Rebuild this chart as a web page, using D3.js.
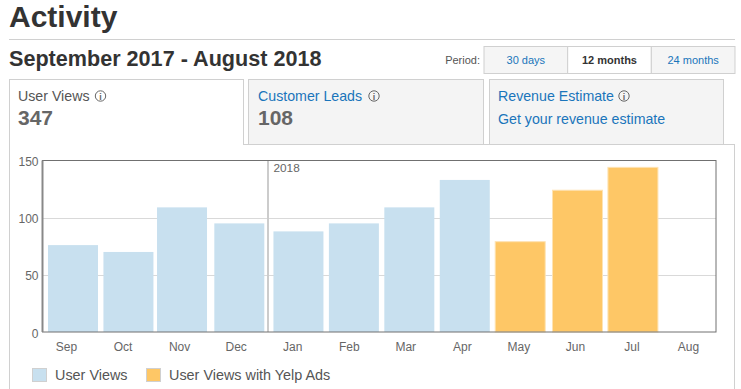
<!DOCTYPE html>
<html>
<head>
<meta charset="utf-8">
<script src="https://cdn.jsdelivr.net/npm/d3@7"></script>
<style>
  html, body { margin: 0; padding: 0; background: #fff; overflow: hidden; }
  svg { display: block; }
  text { font-family: "Liberation Sans", Arial, sans-serif; }
  .link { fill: #1a75bb; }
  .axis text { fill: #666; font-size: 12px; }
  .axis .domain, .axis .tick line { display: none; }
</style>
</head>
<body>
<script>
const months = ['Sep', 'Oct', 'Nov', 'Dec', 'Jan', 'Feb', 'Mar', 'Apr', 'May', 'Jun', 'Jul', 'Aug'];
// dates each bar sits at (they drift a day or so from the 1st)
const barDates = ['2017-09-01', '2017-10-01', '2017-10-30', '2017-11-30', '2018-01-01', '2018-01-31',
  '2018-03-02', '2018-04-01', '2018-05-01', '2018-06-01', '2018-07-01', '2018-08-01'];
const userViews = [76, 70, 109, 95, 88, 95, 109, 133, 0, 0, 0, 0];
const yelpAdsViews = [0, 0, 0, 0, 0, 0, 0, 0, 79, 124, 144, 0];
const yTicks = [0, 50, 100, 150];
const periods = ['30 days', '12 months', '24 months'];
const legendLabels = ['User Views', 'User Views with Yelp Ads'];

const width = 741, height = 389;
const plot = {left: 42.5, right: 716, top: 160.5, bottom: 332};
const barInset = 5.5, barWidth = 50;
const blue = '#c8e0ef', orange = '#fec766';

const parseDay = d3.utcParse('%Y-%m-%d');

const svg = d3.select('body').append('svg')
  .attr('width', width)
  .attr('height', height);

// page heading
svg.append('text').attr('x', 9).attr('y', 27)
  .style('font-size', '30px').style('font-weight', 'bold').attr('fill', '#333')
  .text('Activity');
svg.append('line').attr('x1', 9).attr('x2', 735).attr('y1', 39.5).attr('y2', 39.5)
  .attr('stroke', '#d0d0d0');
svg.append('text').attr('x', 9).attr('y', 66)
  .style('font-size', '21.6px').style('font-weight', 'bold').attr('fill', '#333')
  .text('September 2017 - August 2018');

// period switch
svg.append('text').attr('x', 480).attr('y', 64).attr('text-anchor', 'end')
  .style('font-size', '11px').attr('fill', '#555')
  .text('Period:');

let period_x = d3.scaleBand().domain(periods).range([484, 735]);

let buttons = svg.append('g').selectAll('g')
  .data(periods)
  .enter().append('g')
    .attr('transform', d => `translate(${period_x(d)},46.5)`);

buttons.append('rect')
  .attr('width', period_x.bandwidth())
  .attr('height', 27)
  .attr('fill', d => d === '12 months' ? '#fff' : '#f5f5f5')
  .attr('stroke', '#d0d0d0');

buttons.append('text')
  .attr('x', period_x.bandwidth() / 2)
  .attr('y', 17.5)
  .attr('text-anchor', 'middle')
  .style('font-size', '11px')
  .style('font-weight', d => d === '12 months' ? 'bold' : 'normal')
  .attr('fill', d => d === '12 months' ? '#333' : '#1a75bb')
  .text(d => d);

// panel under the tabs
svg.append('rect').attr('x', 9.5).attr('y', 144.5).attr('width', 725).attr('height', 260)
  .attr('fill', '#fff').attr('stroke', '#d0d0d0');

function info(x, y) {
  let g = svg.append('g').attr('transform', `translate(${x},${y})`);
  g.append('circle').attr('r', 5.2).attr('fill', 'none').attr('stroke', '#666');
  g.append('text').attr('y', 3.5).attr('text-anchor', 'middle')
    .style('font-size', '9px').style('font-weight', 'bold').attr('fill', '#666').text('i');
}

function tab(x, w, active) {
  svg.append('rect').attr('x', x).attr('y', 79.5).attr('width', w).attr('height', 65)
    .attr('fill', active ? '#fff' : '#f4f4f4').attr('stroke', '#d0d0d0');
  // active tab opens into the panel
  if (active)
    svg.append('rect').attr('x', x + 0.5).attr('y', 140).attr('width', w - 1).attr('height', 8).attr('fill', '#fff');
}

tab(9.5, 234, true);
tab(248.5, 235, false);
tab(489.5, 234, false);

function label(x, y, txt, cls) {
  return svg.append('text').attr('x', x).attr('y', y).attr('class', cls)
    .style('font-size', '14.2px').text(txt);
}

label(18, 101, 'User Views').attr('fill', '#555');
info(100.5, 96);
label(258, 101, 'Customer Leads', 'link');
info(374, 96);
label(498, 101, 'Revenue Estimate', 'link');
info(624, 96);
label(498, 124, 'Get your revenue estimate', 'link');

svg.append('text').attr('x', 18).attr('y', 125)
  .style('font-size', '21px').style('font-weight', 'bold').attr('fill', '#666').text('347');
svg.append('text').attr('x', 258).attr('y', 125)
  .style('font-size', '21px').style('font-weight', 'bold').attr('fill', '#666').text('108');

// chart
let sx = d3.scaleUtc()
  .domain([parseDay('2017-09-01'), parseDay('2018-09-01')])
  .range([plot.left, plot.right + 1]);
let sy = d3.scaleLinear().domain([0, 150]).range([plot.bottom, plot.top]);
let label_x = d3.scalePoint().domain(months).range([66, 688]);

let chart = svg.append('g');

chart.selectAll('.grid')
  .data(yTicks.slice(1, 3))
  .enter().append('line')
    .attr('class', 'grid')
    .attr('x1', plot.left).attr('x2', plot.right)
    .attr('y1', d => Math.round(sy(d)) + 0.5).attr('y2', d => Math.round(sy(d)) + 0.5)
    .attr('stroke', '#d9d9d9');

chart.selectAll('.bar')
  .data(barDates.map((d, i) => ({date: parseDay(d), views: userViews[i], ads: yelpAdsViews[i]})))
  .enter().filter(d => d.views + d.ads > 0).append('rect')
    .attr('class', 'bar')
    .attr('x', d => sx(d.date) + barInset)
    .attr('y', d => sy(d.views + d.ads))
    .attr('width', barWidth)
    .attr('height', d => sy(0) - sy(d.views + d.ads))
    .attr('fill', d => d.ads ? orange : blue)
    .attr('stroke', d => d.ads ? '#fee3b3' : 'none');

// year marker sits in the gap just before the January bar
let year_x = Math.round(sx(parseDay('2018-01-01')));
chart.append('line')
  .attr('x1', year_x).attr('x2', year_x)
  .attr('y1', plot.top).attr('y2', plot.bottom)
  .attr('stroke', '#ccc').attr('stroke-width', 2);
chart.append('text')
  .attr('x', year_x + 5.5).attr('y', 172)
  .style('font-size', '11.8px').attr('fill', '#666')
  .text('2018');

chart.append('rect')
  .attr('x', plot.left).attr('y', plot.top)
  .attr('width', plot.right - plot.left).attr('height', plot.bottom - plot.top)
  .attr('fill', 'none').attr('stroke', '#707070');
chart.append('line')
  .attr('x1', plot.left).attr('x2', plot.left)
  .attr('y1', plot.top).attr('y2', plot.bottom)
  .attr('stroke', '#888').attr('stroke-width', 2);

chart.append('g')
  .attr('class', 'y axis')
  .attr('transform', `translate(${plot.left},0)`)
  .call(d3.axisLeft(sy).tickValues(yTicks).tickSize(0).tickPadding(4))
  .selectAll('text').attr('font-family', null).attr('dy', '0.42em');

chart.append('g')
  .attr('class', 'x axis')
  .attr('transform', `translate(0,${plot.bottom})`)
  .call(d3.axisBottom(label_x).tickSize(0).tickPadding(10))
  .selectAll('text').attr('font-family', null);

// legend
let legend = svg.append('g').selectAll('g')
  .data(legendLabels)
  .enter().append('g')
    .attr('transform', (d, i) => `translate(${i ? 146.5 : 32.5},368.5)`);

legend.append('rect')
  .attr('width', 14).attr('height', 13)
  .attr('fill', (d, i) => i ? orange : blue)
  .attr('stroke', '#d0d0d0');

legend.append('text')
  .attr('x', 22.5).attr('y', 11.5)
  .style('font-size', '14.4px').attr('fill', '#555')
  .text(d => d);
</script>
</body>
</html>
